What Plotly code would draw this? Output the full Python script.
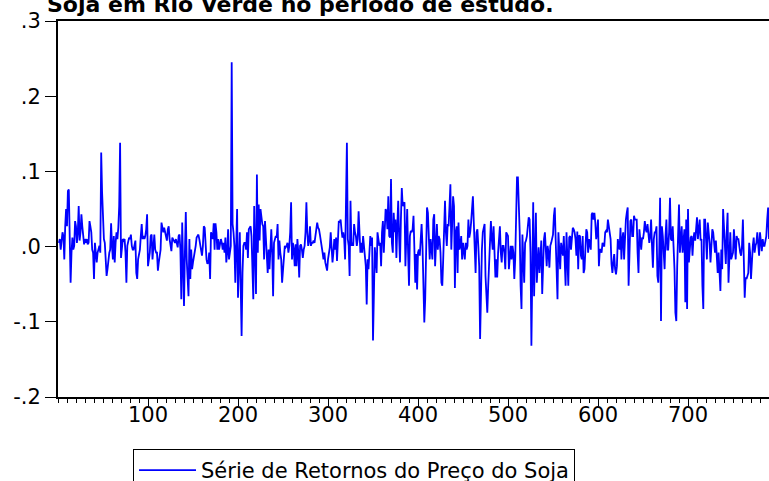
import plotly.graph_objects as go

# Série de retornos (observações 1..790)
returns_001_100 = [
    0.005, 0.010, -0.004, 0.005, 0.019, 0.014, -0.017, 0.027, 0.050, 0.027,
    0.074, 0.076, 0.014, -0.048, -0.008, 0.012, -0.004, 0.001, 0.034, 0.027,
    0.005, 0.019, 0.054, 0.008, 0.019, 0.043, 0.027, 0.010, 0.003, 0.010,
    0.005, 0.010, 0.003, 0.005, 0.034, 0.027, 0.019, -0.004, -0.008, -0.043,
    0.005, -0.008, -0.021, -0.008, -0.004, 0.001, -0.008, 0.125, 0.072, 0.036,
    0.010, 0.005, -0.012, -0.039, -0.030, -0.017, -0.008, -0.004, 0.031, 0.001,
    -0.017, 0.014, -0.021, 0.005, 0.019, 0.010, 0.025, 0.054, 0.138, -0.015,
    0.001, 0.010, 0.008, 0.010, -0.008, -0.048, 0.001, 0.010, 0.012, 0.010,
    0.016, 0.001, -0.004, -0.004, 0.003, 0.008, -0.035, -0.043, -0.017, -0.010,
    -0.004, 0.014, 0.030, 0.010, 0.014, 0.010, 0.014, 0.023, 0.043, -0.026,
]
returns_101_200 = [
    -0.017, -0.008, 0.014, 0.016, -0.017, -0.004, 0.016, -0.004, -0.008, -0.008,
    -0.032, -0.021, -0.008, -0.004, 0.032, 0.023, 0.019, 0.025, 0.019, 0.014,
    0.008, 0.023, 0.027, 0.010, 0.001, -0.006, 0.012, 0.010, 0.008, 0.005,
    0.010, 0.001, -0.001, 0.014, 0.016, -0.004, -0.070, 0.032, -0.035, -0.079,
    -0.008, 0.046, -0.017, -0.052, -0.066, 0.010, -0.043, -0.004, -0.030, -0.021,
    -0.015, -0.008, 0.001, 0.012, 0.014, 0.016, 0.010, 0.001, -0.004, -0.012,
    0.001, 0.027, 0.025, -0.004, -0.017, -0.023, -0.021, -0.008, -0.043, 0.019,
    0.014, 0.010, 0.031, -0.004, 0.031, 0.019, -0.004, 0.010, -0.004, 0.001,
    0.010, 0.005, -0.004, 0.005, -0.008, 0.012, -0.021, -0.008, 0.023, -0.017,
    -0.008, 0.001, 0.245, 0.030, 0.019, 0.001, -0.048, -0.012, 0.050, -0.068,
]
returns_201_300 = [
    -0.008, 0.019, -0.052, -0.119, -0.035, 0.001, 0.005, 0.005, -0.004, 0.019,
    -0.015, 0.023, 0.025, 0.027, 0.014, -0.043, -0.070, 0.054, -0.017, -0.063,
    0.096, -0.008, 0.056, 0.008, 0.050, 0.036, 0.030, 0.027, -0.017, 0.034,
    0.014, -0.008, -0.035, -0.004, -0.030, -0.004, 0.023, -0.008, -0.066, 0.005,
    0.010, 0.014, 0.012, 0.030, -0.017, 0.008, -0.008, -0.017, -0.048, -0.026,
    -0.008, 0.001, -0.001, 0.001, 0.005, -0.008, 0.001, 0.019, 0.059, -0.017,
    0.005, -0.004, -0.026, 0.003, -0.026, 0.010, -0.008, -0.041, 0.001, 0.003,
    -0.004, -0.015, -0.004, 0.001, 0.019, 0.059, 0.019, 0.001, 0.008, 0.027,
    0.001, 0.005, 0.005, 0.008, 0.005, 0.014, 0.019, 0.032, 0.025, 0.023,
    0.016, 0.005, 0.003, -0.008, -0.017, -0.008, -0.021, -0.026, -0.032, -0.017,
]
returns_301_400 = [
    -0.008, -0.001, 0.019, -0.004, -0.021, -0.008, 0.010, -0.004, 0.012, -0.019,
    0.010, 0.034, 0.032, 0.036, 0.023, 0.012, 0.019, 0.010, -0.017, 0.054,
    0.138, 0.010, 0.001, -0.039, 0.061, 0.001, 0.005, 0.001, 0.030, 0.019,
    0.014, 0.001, 0.010, 0.047, 0.010, -0.008, 0.005, -0.008, 0.014, -0.004,
    -0.008, -0.026, -0.077, -0.017, -0.030, 0.001, 0.014, 0.001, 0.012, -0.125,
    -0.026, -0.001, -0.017, -0.035, 0.019, 0.005, 0.001, 0.005, -0.026, 0.019,
    0.034, -0.008, 0.036, 0.050, 0.047, 0.023, 0.067, 0.014, 0.012, 0.090,
    0.005, -0.008, 0.045, 0.019, 0.036, -0.015, 0.027, 0.061, 0.014, -0.021,
    0.036, 0.078, 0.054, 0.056, 0.059, -0.026, 0.036, 0.050, -0.008, -0.052,
    0.014, 0.021, 0.019, 0.023, 0.041, -0.035, -0.048, -0.010, -0.057, -0.008,
]
returns_401_500 = [
    -0.004, -0.012, 0.023, 0.030, 0.001, -0.035, -0.101, -0.070, -0.008, 0.052,
    0.045, 0.019, -0.017, 0.010, -0.004, -0.017, 0.036, 0.043, -0.026, 0.019,
    0.030, -0.004, 0.014, 0.010, -0.008, -0.048, -0.052, -0.017, 0.027, 0.061,
    0.019, 0.001, 0.030, 0.027, 0.054, 0.083, -0.004, 0.036, 0.067, 0.054,
    -0.055, 0.019, 0.027, -0.035, 0.032, -0.004, 0.001, 0.014, -0.017, 0.005,
    -0.008, -0.017, 0.005, -0.004, 0.001, 0.036, 0.012, 0.019, 0.032, 0.054,
    0.067, 0.032, -0.008, -0.035, 0.019, 0.023, 0.001, -0.026, -0.123, -0.052,
    -0.004, 0.019, 0.027, 0.030, -0.039, -0.066, -0.088, -0.052, -0.026, -0.004,
    0.034, 0.010, -0.004, 0.027, -0.008, -0.041, -0.017, -0.041, -0.008, 0.010,
    0.027, -0.008, -0.021, 0.001, 0.001, -0.008, -0.030, 0.019, 0.016, 0.014,
]
returns_501_600 = [
    -0.030, -0.008, 0.001, -0.017, 0.001, -0.008, -0.043, -0.017, 0.036, 0.092,
    0.092, 0.054, 0.019, -0.052, -0.083, 0.016, -0.030, -0.048, 0.005, 0.008,
    0.014, 0.027, 0.039, 0.036, -0.008, -0.132, -0.008, 0.059, -0.066, 0.014,
    0.045, -0.048, -0.017, -0.001, -0.035, -0.008, 0.008, -0.063, -0.008, 0.010,
    0.019, -0.008, -0.026, 0.001, -0.008, -0.028, 0.001, 0.005, 0.010, 0.016,
    0.041, 0.052, 0.008, -0.035, -0.070, 0.019, -0.008, -0.030, 0.005, -0.004,
    -0.012, 0.014, -0.030, -0.052, 0.019, -0.017, -0.052, 0.012, 0.014, -0.004,
    0.010, 0.025, 0.023, 0.019, 0.010, -0.012, 0.020, -0.030, 0.015, 0.014,
    -0.012, -0.017, 0.014, -0.035, -0.030, -0.008, 0.023, 0.019, -0.008, 0.010,
    0.005, -0.004, 0.043, 0.045, 0.036, 0.045, 0.032, 0.010, 0.019, 0.036,
]
returns_601_700 = [
    -0.026, -0.004, -0.004, -0.008, 0.005, 0.001, 0.001, 0.019, 0.021, 0.019,
    0.036, 0.027, 0.019, 0.010, -0.023, -0.035, -0.021, -0.010, -0.030, -0.037,
    -0.026, 0.010, 0.001, -0.004, 0.025, -0.017, 0.010, 0.019, -0.017, 0.023,
    0.036, 0.045, 0.052, -0.052, 0.019, 0.034, 0.036, 0.014, 0.014, 0.041,
    0.036, 0.036, 0.036, -0.008, -0.035, 0.023, 0.001, -0.004, 0.012, 0.010,
    0.019, 0.034, 0.023, 0.019, 0.030, 0.010, 0.005, 0.014, 0.036, 0.001,
    -0.028, 0.010, 0.019, 0.019, 0.027, -0.039, -0.048, -0.008, 0.065, -0.099,
    0.027, 0.014, -0.008, -0.030, 0.014, 0.036, -0.004, -0.004, 0.019, 0.065,
    0.010, 0.008, 0.027, 0.001, -0.030, -0.088, -0.099, -0.026, 0.027, 0.056,
    -0.008, 0.010, 0.027, -0.008, 0.014, 0.023, -0.074, 0.036, -0.083, 0.050,
]
returns_701_790 = [
    -0.021, 0.001, 0.012, 0.014, -0.012, 0.010, 0.019, 0.008, 0.027, 0.039,
    0.010, 0.027, 0.036, 0.008, 0.010, -0.052, -0.083, 0.036, 0.036, 0.010,
    -0.017, 0.032, 0.019, 0.005, -0.021, 0.010, 0.023, 0.019, 0.001, -0.008,
    0.008, -0.017, -0.035, -0.008, -0.043, -0.059, -0.004, -0.030, 0.050, 0.019,
    -0.008, -0.023, 0.019, 0.045, -0.048, -0.008, 0.019, -0.017, -0.012, -0.008,
    0.023, 0.001, -0.017, 0.014, 0.010, 0.010, -0.004, -0.008, -0.012, 0.001,
    0.036, -0.035, -0.068, -0.041, -0.043, -0.039, -0.035, 0.005, -0.008, -0.043,
    -0.008, 0.001, 0.012, -0.008, 0.001, 0.005, 0.019, 0.001, -0.012, 0.019,
    0.005, -0.006, 0.010, 0.001, 0.001, 0.008, 0.014, 0.036, 0.052, 0.010,
]

returns = (returns_001_100 + returns_101_200 + returns_201_300 + returns_301_400
           + returns_401_500 + returns_501_600 + returns_601_700 + returns_701_790)
obs = list(range(1, len(returns) + 1))

x_tick_vals = [100, 200, 300, 400, 500, 600, 700]
x_tick_text = ["100", "200", "300", "400", "500", "600", "700"]
y_tick_vals = [-0.2, -0.1, 0.0, 0.1, 0.2, 0.3]
y_tick_text = ["-.2", "-.1", ".0", ".1", ".2", ".3"]

series_name = "Série de Retornos do Preço do Soja"
title_text = "Soja em Rio Verde no período de estudo."

FONT = "DejaVu Sans"

fig = go.Figure()
fig.add_trace(go.Scatter(
    x=obs, y=returns, mode="lines", name=series_name,
    line=dict(color="#0000FF", width=1.8),
    showlegend=True,
))

fig.update_layout(
    width=769, height=481,
    margin=dict(l=58, r=0, t=21, b=84, autoexpand=False),
    paper_bgcolor="white", plot_bgcolor="white",
    font=dict(family=FONT, size=21, color="black"),
    showlegend=True,
    legend=dict(
        x=0.1055, y=-0.138, xanchor="left", yanchor="top",
        bgcolor="white", bordercolor="black", borderwidth=1,
        font=dict(family=FONT, size=21, color="black"),
        itemwidth=57,
    ),
    annotations=[dict(
        text="<b>" + title_text + "</b>",
        xref="paper", yref="paper", x=-0.0183, y=1.006,
        xanchor="left", yanchor="bottom", showarrow=False,
        font=dict(family=FONT, size=22, color="black"),
    )],
)

fig.update_xaxes(
    range=[0, 790], automargin=False,
    tickmode="array", tickvals=x_tick_vals, ticktext=x_tick_text,
    ticks="outside", ticklen=7, tickwidth=1, tickcolor="black",
    ticklabelstandoff=-9,
    minor=dict(tick0=0, dtick=10, ticks="outside", ticklen=4, tickwidth=1, tickcolor="black"),
    showline=True, linecolor="black", linewidth=2, mirror=True,
    showgrid=False, zeroline=False,
    tickfont=dict(family=FONT, size=21, color="black"),
)
fig.update_yaxes(
    range=[-0.2, 0.3], automargin=False,
    tickmode="array", tickvals=y_tick_vals, ticktext=y_tick_text,
    ticks="outside", ticklen=11, tickwidth=1, tickcolor="black",
    showline=True, linecolor="black", linewidth=2, mirror=False,
    showgrid=False, zeroline=False,
    tickfont=dict(family=FONT, size=21, color="black"),
)

fig.write_html(
    "out.html",
    config={"displayModeBar": False},
    post_script="document.body.style.margin='0';document.body.style.overflow='hidden';",
)
